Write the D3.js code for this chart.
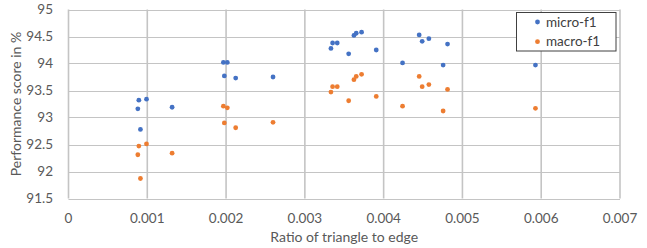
<!DOCTYPE html>
<html>
<head>
<meta charset="utf-8">
<script src="https://cdn.jsdelivr.net/npm/d3@7"></script>
<style>
  body { margin: 0; background: #fff; }
  svg { display: block; font-family: Lato, "Open Sans", sans-serif; }
</style>
</head>
<body>
<div id="chart"></div>
<script>
// data
const ratio = [0.000893, 0.00099, 0.00088, 0.001315, 0.000913,
               0.001966, 0.002016, 0.001978, 0.002122, 0.002596,
               0.003331, 0.003352, 0.003411, 0.003556, 0.003623, 0.003652, 0.00372, 0.003906,
               0.00424, 0.004451, 0.004489, 0.004574, 0.004755, 0.004811, 0.005927];
const microF1 = [93.32, 93.34, 93.16, 93.19, 92.78,
                 94.02, 94.02, 93.77, 93.73, 93.75,
                 94.28, 94.38, 94.38, 94.18, 94.52, 94.56, 94.58, 94.25,
                 94.01, 94.53, 94.41, 94.46, 93.97, 94.36, 93.97];
const macroF1 = [92.47, 92.51, 92.31, 92.34, 91.87,
                 93.21, 93.18, 92.90, 92.81, 92.91,
                 93.47, 93.57, 93.57, 93.31, 93.70, 93.76, 93.80, 93.39,
                 93.21, 93.76, 93.57, 93.61, 93.12, 93.52, 93.17];
const xTicks = [0, 0.001, 0.002, 0.003, 0.004, 0.005, 0.006, 0.007];
const yTicks = [91.5, 92, 92.5, 93, 93.5, 94, 94.5, 95];
const seriesNames = ["micro-f1", "macro-f1"];
const colors = ["#4472C4", "#ED7D31"];

const W = 647, H = 248;
const margin = { left: 68.5, right: 27, top: 9.5, bottom: 49.5 };

const svg = d3.select("#chart").append("svg").attr("width", W).attr("height", H);

const x = d3.scaleLinear().domain([0, 0.007]).range([margin.left, W - margin.right]);
const y = d3.scaleLinear().domain([91.5, 95]).range([H - margin.bottom, margin.top]);

// grid
svg.append("g").selectAll("line.h").data(yTicks).join("line")
    .attr("x1", x(0)).attr("x2", x(0.007))
    .attr("y1", d => Math.round(y(d)) + 0.5).attr("y2", d => Math.round(y(d)) + 0.5)
    .attr("stroke", "#c4c4c4").attr("stroke-width", 1.2);
svg.append("g").selectAll("line.v").data(xTicks).join("line")
    .attr("x1", d => x(d)).attr("x2", d => x(d))
    .attr("y1", y(95)).attr("y2", y(91.5))
    .attr("stroke", "#c4c4c4").attr("stroke-width", 1.6);

// tick labels
svg.append("g").selectAll("text").data(yTicks).join("text")
    .attr("x", 53).attr("y", d => y(d)).attr("dy", "0.35em")
    .attr("text-anchor", "end").attr("font-size", 13.5).attr("fill", "#595959")
    .text(d => d);
svg.append("g").selectAll("text").data(xTicks).join("text")
    .attr("x", d => x(d)).attr("y", 218).attr("dy", "0.35em")
    .attr("text-anchor", "middle").attr("font-size", 13.5).attr("fill", "#595959")
    .text(d => d);

// axis titles
svg.append("text")
    .attr("x", (x(0) + x(0.007)) / 2).attr("y", 237).attr("dy", "0.35em")
    .attr("text-anchor", "middle").attr("font-size", 14).attr("fill", "#595959")
    .text("Ratio of triangle to edge");
svg.append("text")
    .attr("transform", `translate(16,${(y(95) + y(91.5)) / 2}) rotate(-90)`)
    .attr("dy", "0.35em")
    .attr("text-anchor", "middle").attr("font-size", 14).attr("fill", "#595959")
    .text("Performance score in %");

// points
[microF1, macroF1].forEach((vals, k) => {
    svg.append("g").selectAll("circle").data(ratio).join("circle")
        .attr("cx", d => x(d)).attr("cy", (d, i) => y(vals[i]))
        .attr("r", 2.4).attr("fill", colors[k]);
});

// legend
const lg = svg.append("g");
lg.append("rect").attr("x", 516.5).attr("y", 12.5).attr("width", 99.5).attr("height", 38.5)
    .attr("fill", "#fff").attr("stroke", "#404040").attr("stroke-width", 1);
seriesNames.forEach((name, k) => {
    const cy = 22 + k * 19.7;
    lg.append("circle").attr("cx", 537.5).attr("cy", cy).attr("r", 2.4).attr("fill", colors[k]);
    lg.append("text").attr("x", 546).attr("y", cy).attr("dy", "0.35em")
        .attr("font-size", 13.5).attr("fill", "#404040").text(name);
});
</script>
</body>
</html>
